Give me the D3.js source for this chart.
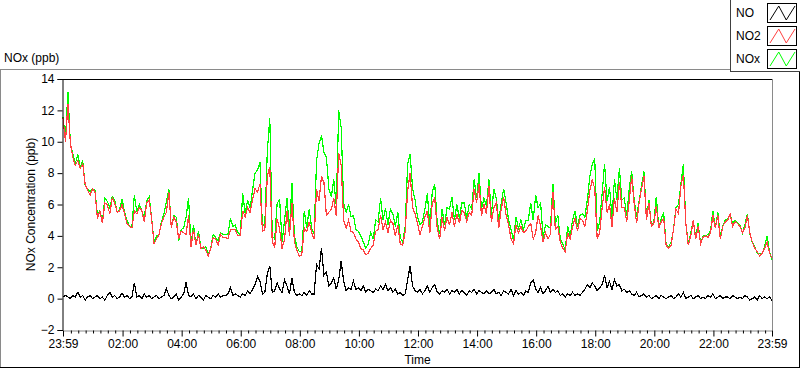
<!DOCTYPE html>
<html>
<head>
<meta charset="utf-8">
<script src="https://cdn.jsdelivr.net/npm/d3@7"></script>
<style>
  html, body { margin: 0; padding: 0; background: #fff; }
  svg text { font-family: "Liberation Sans", Arial, sans-serif; font-size: 12px; fill: #000; }
</style>
</head>
<body>
<div id="chart"></div>
<script>
// sample times: minutes after midnight, one reading every 5 min from 23:59
const startMinute = -1;
const stepMinutes = 5;

// NO (ppb)
const noValues = [
  0.1, 0.2, 0.1, 0.0, 0.2, 0.1, 0.4, 0.1, 0.2, -0.1,
  0.1, 0.2, 0.0, 0.1, 0.2, 0.0, 0.1, -0.1, 0.2, 0.4,
  0.1, 0.2, 0.0, 0.1, 0.35, 0.1, 0.2, 0.0, 0.1, 1.0,
  0.1, 0.2, 0.0, 0.3, 0.1, 0.2, 0.0, 0.1, 0.2, 0.0,
  0.1, 0.2, 0.65, 0.2, 0.0, 0.1, 0.3, -0.1, 0.1, 0.3,
  1.05, 0.2, 0.1, 0.3, 0.0, 0.2, 0.1, -0.1, 0.2, 0.1,
  0.0, 0.2, 0.1, 0.3, 0.1, 0.2, 0.2, 0.3, 0.7, 0.2,
  0.3, 0.2, 0.1, 0.3, 0.2, 0.5, 0.3, 0.6, 0.9, 1.4,
  1.1, 0.3, 0.4, 1.6, 2.1, 0.4, 0.5, 1.0, 0.6, 0.4,
  1.2, 0.8, 0.3, 1.3, 0.4, 0.2, 0.3, 0.2, 0.4, 0.2,
  0.5, 0.3, 0.3, 2.2, 1.9, 3.2, 1.5, 1.7, 0.8, 1.0,
  1.3, 0.6, 1.2, 2.4, 1.1, 0.5, 0.7, 0.6, 1.1, 0.6,
  0.7, 0.5, 0.8, 0.4, 0.6, 0.5, 0.4, 0.6, 0.5, 0.8,
  0.6, 0.9, 0.5, 0.7, 0.4, 0.6, 0.3, 0.4, 0.2, 0.3,
  1.2, 2.1, 0.8, 0.5, 0.4, 0.6, 0.3, 0.5, 0.8, 0.4,
  0.7, 0.9, 0.4, 0.3, 0.5, 0.4, 0.6, 0.3, 0.5, 0.4,
  0.6, 0.3, 0.5, 0.4, 0.2, 0.5, 0.4, 0.6, 0.3, 0.5,
  0.4, 0.3, 0.5, 0.3, 0.4, 0.6, 0.3, 0.4, 0.2, 0.5,
  0.4, 0.3, 0.6, 0.2, 0.5, 0.3, 0.4, 0.2, 0.5, 0.4,
  1.0, 1.2, 0.6, 0.4, 0.7, 0.3, 0.5, 0.8, 0.4, 0.6,
  0.4, 0.5, 0.2, 0.3, 0.1, 0.3, 0.2, 0.4, 0.2, 0.3,
  0.2, 0.4, 0.6, 0.9, 0.7, 1.0, 0.8, 0.5, 0.7, 0.9,
  1.5, 0.7, 1.1, 0.6, 1.2, 0.8, 0.9, 0.5, 0.6, 0.4,
  0.5, 0.3, 0.2, 0.4, 0.1, 0.2, 0.3, 0.1, 0.2, 0.0,
  0.1, 0.2, 0.0, 0.2, 0.1, 0.0, 0.1, 0.2, 0.0, 0.1,
  0.3, 0.1, 0.4, 0.0, 0.1, 0.2, 0.0, 0.1, 0.2, 0.0,
  0.1, 0.0, 0.2, 0.1, 0.3, 0.0, 0.1, 0.2, 0.0, 0.1,
  0.1, 0.0, 0.2, 0.1, 0.0, 0.1, 0.0, 0.2, 0.1, -0.1,
  0.0, 0.1, -0.1, 0.2, 0.0, 0.1, 0.0, 0.1, -0.1
];

// NO2 (ppb)
const no2Values = [
  11.5, 10.0, 12.4, 9.9, 9.0, 8.5, 8.8, 8.3, 8.6, 7.3,
  6.9, 6.6, 7.0, 6.8, 5.1, 5.6, 4.8, 6.1, 6.0, 5.4,
  6.4, 6.1, 5.5, 5.6, 6.0, 5.4, 4.8, 4.6, 4.5, 5.6,
  5.4, 5.8, 5.6, 4.9, 6.1, 6.3, 5.1, 3.5, 3.8, 4.1,
  4.8, 5.2, 5.5, 6.8, 4.5, 5.2, 4.9, 3.8, 4.3, 4.2,
  4.1, 5.3, 3.3, 4.4, 3.4, 4.1, 3.2, 3.3, 3.1, 2.7,
  3.2, 3.9, 3.8, 3.4, 4.1, 3.9, 3.9, 3.8, 4.4, 4.4,
  4.4, 4.0, 4.0, 5.6, 5.2, 5.8, 5.5, 6.3, 7.0, 6.8,
  7.3, 4.3, 4.4, 7.8, 8.4, 3.6, 3.3, 5.1, 4.4, 3.2,
  3.8, 5.6, 4.0, 6.1, 3.6, 3.1, 2.7, 2.8, 4.5, 4.3,
  4.9, 4.2, 3.8, 7.0, 6.2, 7.8, 7.4, 5.3, 5.5, 5.7,
  6.4, 5.3, 9.3, 8.5, 5.0, 4.5, 5.0, 4.3, 4.2, 3.8,
  3.6, 3.2, 3.1, 2.8, 2.9, 3.2, 3.4, 4.3, 4.4, 5.3,
  4.4, 4.9, 4.2, 5.0, 4.8, 4.0, 4.7, 3.5, 3.4, 4.3,
  6.9, 8.0, 5.8, 5.4, 4.8, 4.1, 4.6, 5.2, 5.6, 4.2,
  6.1, 6.4, 4.5, 3.8, 5.2, 4.3, 5.2, 4.7, 5.5, 4.6,
  5.4, 4.8, 5.6, 5.5, 4.9, 5.5, 5.3, 7.0, 6.1, 7.3,
  5.3, 6.0, 5.4, 7.2, 4.9, 5.8, 6.1, 4.5, 5.7, 6.5,
  5.3, 4.7, 3.8, 3.5, 4.7, 4.2, 4.6, 4.2, 4.3, 4.6,
  4.8, 3.8, 4.2, 5.3, 4.6, 3.6, 4.2, 3.8, 4.1, 6.8,
  4.4, 4.6, 3.6, 3.2, 3.0, 4.2, 3.8, 4.6, 5.1, 4.3,
  5.1, 5.0, 4.6, 5.6, 6.9, 7.6, 7.0, 3.8, 4.2, 5.8,
  7.1, 5.5, 6.0, 4.6, 6.4, 5.5, 7.4, 5.8, 5.8, 4.9,
  6.2, 7.8, 6.1, 4.8, 6.1, 7.0, 7.8, 5.0, 6.1, 4.6,
  4.8, 5.9, 4.5, 4.9, 5.1, 3.4, 3.2, 3.4, 4.4, 5.7,
  5.4, 7.2, 7.9, 4.8, 3.4, 4.0, 5.0, 3.8, 4.6, 3.5,
  3.9, 4.0, 3.9, 4.2, 5.3, 4.5, 5.3, 3.8, 4.6, 4.9,
  5.0, 5.4, 4.6, 4.9, 4.8, 4.6, 4.2, 4.5, 5.3, 4.2,
  3.6, 3.2, 3.0, 2.7, 2.9, 3.2, 3.6, 2.9, 2.6
];

// NOx (ppb)
const noxValues = [
  11.6, 10.2, 13.2, 9.9, 9.2, 8.6, 9.2, 8.4, 8.8, 7.2,
  7.0, 6.8, 7.0, 6.9, 5.3, 5.6, 4.9, 6.4, 6.2, 5.8,
  6.5, 6.3, 5.5, 5.7, 6.35, 5.5, 5.0, 4.6, 4.6, 6.6,
  5.5, 6.0, 5.6, 5.2, 6.2, 6.5, 5.1, 3.6, 4.0, 4.1,
  4.9, 5.4, 6.2, 7.0, 4.5, 5.3, 5.2, 3.7, 4.4, 4.5,
  5.2, 6.4, 3.4, 4.7, 3.4, 4.3, 3.3, 3.2, 3.3, 2.8,
  3.2, 4.1, 3.9, 3.7, 4.2, 4.1, 4.1, 4.1, 5.1, 4.6,
  4.7, 4.2, 4.1, 6.7, 5.4, 6.3, 5.8, 6.9, 8.0, 8.2,
  8.7, 4.6, 4.8, 9.4, 11.5, 4.0, 3.8, 6.1, 6.3, 3.6,
  5.0, 6.4, 4.3, 7.4, 4.0, 3.3, 3.0, 3.0, 5.6, 4.5,
  5.7, 4.5, 4.1, 8.8, 9.9, 10.4, 9.3, 9.0, 7.0, 6.5,
  7.6, 5.9, 12.0, 10.9, 6.1, 5.5, 6.0, 5.2, 5.3, 4.4,
  4.3, 4.0, 3.6, 3.2, 3.5, 4.2, 3.8, 5.0, 4.9, 6.4,
  5.0, 5.8, 4.7, 5.7, 5.4, 4.6, 5.5, 3.9, 3.6, 4.6,
  8.6, 9.2, 7.0, 6.3, 5.2, 4.7, 4.9, 5.7, 6.7, 4.6,
  6.8, 7.3, 4.9, 4.1, 5.7, 4.7, 5.8, 5.7, 6.5, 5.0,
  6.0, 5.1, 6.1, 6.1, 5.1, 6.0, 5.7, 7.6, 6.4, 8.0,
  5.7, 6.4, 5.9, 7.6, 5.3, 7.0, 6.4, 4.9, 6.1, 7.0,
  6.1, 5.0, 4.4, 3.7, 5.2, 4.5, 5.0, 4.4, 5.0, 5.0,
  6.1, 5.0, 6.6, 5.8, 6.1, 3.9, 4.7, 4.6, 4.5, 7.3,
  4.8, 5.3, 3.8, 3.5, 3.1, 4.6, 4.0, 5.0, 5.6, 4.6,
  5.3, 5.4, 5.2, 6.3, 7.8, 8.6, 8.9, 4.3, 4.9, 6.7,
  8.6, 6.2, 7.1, 5.2, 7.6, 6.3, 8.3, 6.3, 6.4, 5.3,
  7.0, 8.1, 6.3, 5.2, 6.2, 7.2, 8.1, 5.1, 6.3, 4.6,
  4.9, 6.5, 4.5, 5.1, 5.5, 3.4, 3.3, 3.6, 4.4, 5.8,
  6.0, 7.3, 8.6, 4.8, 3.5, 4.2, 5.0, 3.9, 4.8, 3.5,
  4.0, 4.0, 4.1, 4.3, 5.6, 4.5, 5.5, 4.0, 4.6, 5.0,
  5.1, 5.4, 4.8, 5.0, 4.8, 4.7, 4.2, 4.7, 5.4, 4.1,
  3.6, 3.3, 2.9, 2.9, 2.9, 3.3, 4.0, 3.0, 2.5
];

const yTicks = [-2, 0, 2, 4, 6, 8, 10, 12, 14];
const xMajorTicks = [-1, 120, 240, 360, 480, 600, 720, 840, 960, 1080, 1200, 1320, 1439];
const xMajorLabels = ["23:59", "02:00", "04:00", "06:00", "08:00", "10:00", "12:00",
                      "14:00", "16:00", "18:00", "20:00", "22:00", "23:59"];
const legendNames = ["NO", "NO2", "NOx"];
const legendColors = ["#000000", "#ff4040", "#00ff00"];

const width = 800, height = 369;
const plot = {left: 63, right: 772, top: 79, bottom: 330};

const svg = d3.select("#chart").append("svg")
    .attr("width", width)
    .attr("height", height);

// outer panel frame (light top/left, dark bottom/right)
svg.append("line").attr("x1", 0).attr("x2", 800).attr("y1", 69.5).attr("y2", 69.5)
    .attr("stroke", "#8a8a8a");
svg.append("line").attr("x1", 0.5).attr("x2", 0.5).attr("y1", 69.5).attr("y2", 368)
    .attr("stroke", "#8a8a8a");
svg.append("line").attr("x1", 0).attr("x2", 800).attr("y1", 367.5).attr("y2", 367.5)
    .attr("stroke", "#000");
svg.append("line").attr("x1", 799.5).attr("x2", 799.5).attr("y1", 69.5).attr("y2", 368)
    .attr("stroke", "#000");

svg.append("text").attr("x", 4).attr("y", 62).text("NOx (ppb)");

let x = d3.scaleLinear().domain([-1, 1439]).range([plot.left, plot.right]);
let y = d3.scaleLinear().domain([-2, 14]).range([plot.bottom, plot.top]);

// plot background
svg.append("rect")
    .attr("x", plot.left).attr("y", plot.top)
    .attr("width", plot.right - plot.left).attr("height", plot.bottom - plot.top)
    .attr("fill", "#fff");

const times = noValues.map((d, i) => startMinute + i * stepMinutes);

const lineFor = values => d3.line()
    .x((d, i) => x(times[i]))
    .y(d => y(d))(values);

// pixel-style traces like the instrument display
const lines = svg.append("g").attr("id", "lines").attr("shape-rendering", "crispEdges");
lines.append("path").attr("d", lineFor(noxValues))
    .attr("fill", "none").attr("stroke", legendColors[2]).attr("stroke-width", 1.2);
lines.append("path").attr("d", lineFor(no2Values))
    .attr("fill", "none").attr("stroke", legendColors[1]).attr("stroke-width", 1.2);
lines.append("path").attr("d", lineFor(noValues))
    .attr("fill", "none").attr("stroke", legendColors[0]).attr("stroke-width", 1.2);

// plot border: dark top/left, grey bottom/right
svg.append("line").attr("x1", plot.left).attr("x2", plot.right + 0.5)
    .attr("y1", plot.top + 0.5).attr("y2", plot.top + 0.5).attr("stroke", "#000");
svg.append("line").attr("x1", plot.right + 0.5).attr("x2", plot.right + 0.5)
    .attr("y1", plot.top).attr("y2", plot.bottom + 0.5).attr("stroke", "#8a8a8a");

// y axis
let yAxis = d3.axisLeft(y).tickValues(yTicks).tickSize(5).tickPadding(3);
svg.append("g").attr("id", "yAxis")
    .attr("transform", `translate(${plot.left - 0.5}, 0)`)
    .call(yAxis)
    .call(g => g.select(".domain").attr("stroke", "#000"))
    .selectAll("text")
    .style("font-family", "Liberation Sans, Arial, sans-serif")
    .style("font-size", "12px");

// x axis: grey baseline, 15 min minor ticks, 2 h major ticks
const xAxisG = svg.append("g").attr("id", "xAxis")
    .attr("transform", `translate(0, ${plot.bottom + 0.5})`);
let xMinor = d3.axisBottom(x)
    .tickValues(d3.range(0, 1440, 15).filter(t => t % 120 !== 0))
    .tickSize(3).tickFormat("");
xAxisG.append("g").call(xMinor)
    .call(g => g.select(".domain").attr("stroke", "#8a8a8a"));
let xMajor = d3.axisBottom(x)
    .tickValues(xMajorTicks).tickSize(6).tickPadding(3)
    .tickFormat((d, i) => xMajorLabels[i]);
xAxisG.append("g").call(xMajor)
    .call(g => g.select(".domain").remove())
    .selectAll("text")
    .style("font-family", "Liberation Sans, Arial, sans-serif")
    .style("font-size", "12px");

// axis titles
svg.append("text")
    .attr("x", (plot.left + plot.right) / 2).attr("y", 364)
    .attr("text-anchor", "middle").text("Time");
svg.append("text")
    .attr("transform", `translate(35, ${(plot.top + plot.bottom) / 2}) rotate(-90)`)
    .attr("text-anchor", "middle").text("NOx Concentration (ppb)");

// legend
const legend = svg.append("g").attr("id", "legend");
legend.append("rect")
    .attr("x", 730.5).attr("y", -1).attr("width", 70).attr("height", 72.5)
    .attr("fill", "#fff").attr("stroke", "#404040");
legendNames.forEach((name, i) => {
    const top = 3 + i * 23;
    legend.append("text").attr("x", 736).attr("y", top + 14).text(name);
    legend.append("rect")
        .attr("x", 767.5).attr("y", top + 0.5).attr("width", 29).attr("height", 19)
        .attr("fill", "#fff").attr("stroke", "#000");
    const sx = d3.scaleLinear().domain([0, 1]).range([770, 795]);
    const sy = d3.scaleLinear().domain([0, 1]).range([top + 17, top + 3]);
    legend.append("path")
        .attr("d", d3.line().x(d => sx(d[0])).y(d => sy(d[1]))([[0, 0], [0.35, 1], [0.65, 0], [1, 1]]))
        .attr("fill", "none").attr("stroke", legendColors[i]);
});
</script>
</body>
</html>
